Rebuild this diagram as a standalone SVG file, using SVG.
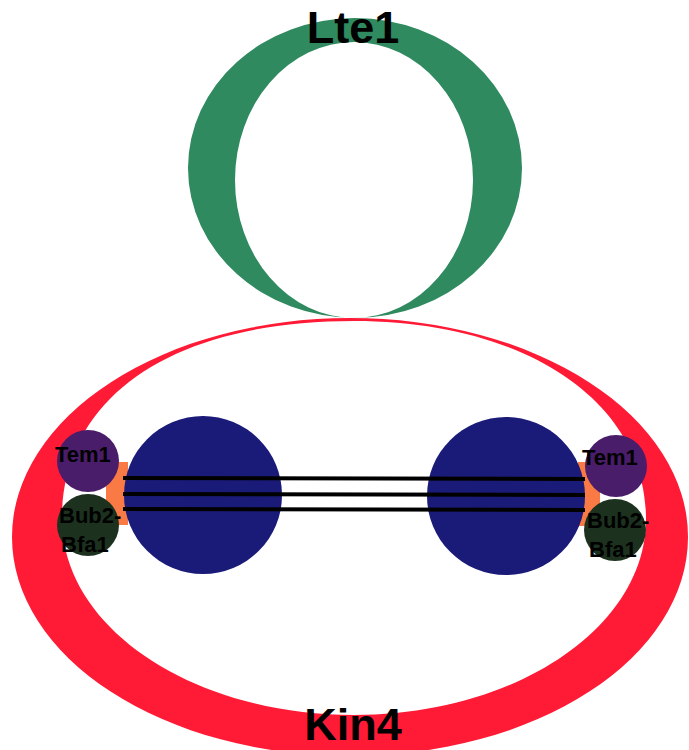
<svg xmlns="http://www.w3.org/2000/svg" width="689" height="750" viewBox="0 0 689 750">
<style>
.lbl{font-family:"Liberation Sans",Arial,sans-serif;font-weight:bold;fill:#000}
.big{font-size:45px}
.sm{font-size:22px}
.tem{fill:#4a1d6a}
.bub{fill:#1c321f}
.body{fill:#1a1a78}
.bar{fill:#fa7a45}
</style>
<rect width="689" height="750" fill="#fff"/>
<g id="kin4">
<path fill="#ff1a36" fill-rule="evenodd" d="M12,537 a338,219 0 1,0 676,0 a338,219 0 1,0 -676,0 Z M354,321 C173,321 62,396 62,519 C62,628 193,715 354,715 C515,715 646,628 646,519 C646,402 526,321 354,321 Z"/>
<text class="lbl big" x="353" y="740" text-anchor="middle">Kin4</text>
</g>
<g id="lte1">
<path fill="#2f8a5f" fill-rule="evenodd" d="M188,168 a167,150 0 1,0 334,0 a167,150 0 1,0 -334,0 Z M235,180 a119,138 0 1,0 238,0 a119,138 0 1,0 -238,0 Z"/>
<text class="lbl big" x="353" y="43" text-anchor="middle">Lte1</text>
</g>
<g id="bars">
<rect class="bar" x="106" y="462" width="22" height="63"/>
<rect class="bar" x="578" y="462" width="22" height="64"/>
</g>
<g id="spb-left"><circle class="body" cx="203" cy="495" r="79"/></g>
<g id="spb-right"><circle class="body" cx="506" cy="496" r="79"/></g>
<g id="microtubules" stroke="#000" stroke-width="4" fill="none">
<line x1="123" y1="478" x2="585" y2="479"/>
<line x1="123" y1="494" x2="585" y2="495"/>
<line x1="123" y1="509" x2="585" y2="510"/>
</g>
<g id="tem1-left"><circle class="tem" cx="88" cy="461" r="31"/><text class="lbl sm" x="55" y="462">Tem1</text></g>
<g id="bub2-left"><circle class="bub" cx="88" cy="525" r="31"/><text class="lbl sm" x="59" y="523">Bub2-</text><text class="lbl sm" x="61" y="552">Bfa1</text></g>
<g id="tem1-right"><circle class="tem" cx="616" cy="466" r="31"/><text class="lbl sm" x="582" y="465">Tem1</text></g>
<g id="bub2-right"><circle class="bub" cx="615" cy="530" r="31"/><text class="lbl sm" x="587" y="528">Bub2-</text><text class="lbl sm" x="589" y="557">Bfa1</text></g>
</svg>
